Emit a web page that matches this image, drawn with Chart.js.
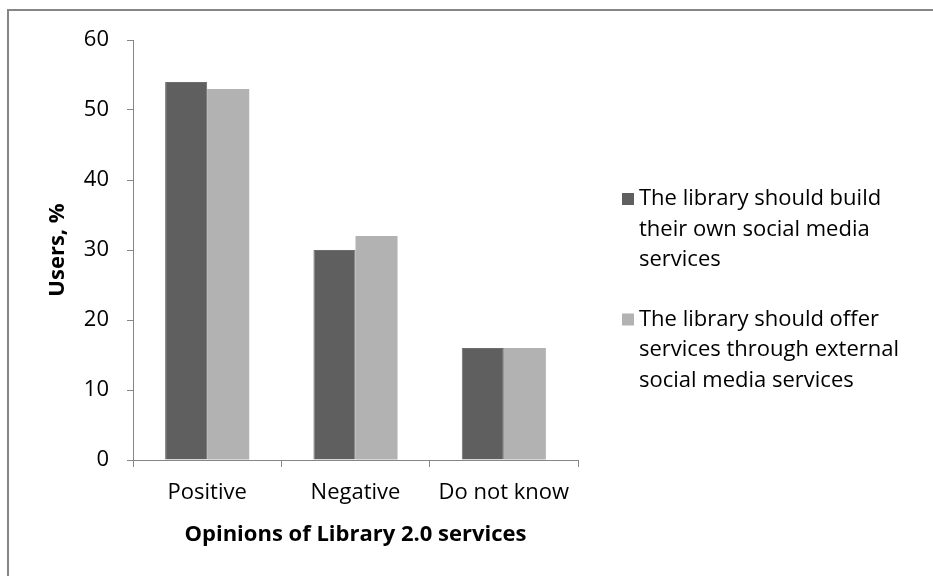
<!DOCTYPE html>
<html>
<head>
<meta charset="utf-8">
<script src="https://cdn.jsdelivr.net/npm/chart.js@4.4.1/dist/chart.umd.min.js"></script>
<style>
  html, body { margin: 0; padding: 0; background: #fff; }
  #wrap { position: relative; width: 933px; height: 576px; }
</style>
</head>
<body>
<div id="wrap"><canvas id="myChart"></canvas></div>
<script>
var categories = ["Positive", "Negative", "Do not know"];
var buildOwn = [54, 30, 16];
var external = [53, 32, 16];
var seriesNames = [
  ["The library should build", "their own social media", "services"],
  ["The library should offer", "services through external", "social media services"]
];
var yTicks = [0, 10, 20, 30, 40, 50, 60];

var fontFamily = "'Open Sans', 'Liberation Sans', sans-serif";
var fontSize = 22;
var axisGray = "#868686";

// outer frame, only the top and left edges show
var frame = {
  id: "frame",
  beforeDraw: function (chart) {
    var ctx = chart.ctx;
    ctx.save();
    ctx.fillStyle = "#fff";
    ctx.fillRect(0, 0, chart.width, chart.height);
    ctx.strokeStyle = axisGray;
    ctx.lineWidth = 2;
    ctx.beginPath();
    ctx.moveTo(8, chart.height);
    ctx.lineTo(8, 10);
    ctx.lineTo(chart.width, 10);
    ctx.stroke();
    ctx.restore();
  }
};

// legend with wrapped lines, to the right of the plot
var sideLegend = {
  id: "sideLegend",
  afterDraw: function (chart) {
    var ctx = chart.ctx;
    var x = chart.chartArea.right + 44;
    var y = 199;
    var lineGap = 30.5;
    ctx.save();
    ctx.font = fontSize + "px " + fontFamily;
    ctx.textBaseline = "middle";
    chart.data.datasets.forEach(function (ds, i) {
      ctx.fillStyle = ds.backgroundColor;
      ctx.fillRect(x, y - 6, 12, 12);
      ctx.fillStyle = "#000";
      seriesNames[i].forEach(function (line, j) {
        ctx.fillText(line, x + 17, y + j * lineGap);
      });
      y += 3 * lineGap + 29;
    });
    ctx.restore();
  }
};

new Chart("myChart", {
  type: "bar",
  data: {
    labels: categories,
    datasets: [{
      label: seriesNames[0].join(" "),
      data: buildOwn,
      backgroundColor: "#5f5f5f",
      borderColor: "#6e6e6e",
      borderWidth: 1,
      categoryPercentage: 0.567,
      barPercentage: 1
    }, {
      label: seriesNames[1].join(" "),
      data: external,
      backgroundColor: "#b2b2b2",
      categoryPercentage: 0.567,
      barPercentage: 1
    }]
  },
  options: {
    responsive: true,
    maintainAspectRatio: false,
    animation: false,
    layout: { padding: { top: 40, right: 355, left: 0, bottom: 0 } },
    plugins: {
      legend: { display: false },
      tooltip: { enabled: false }
    },
    scales: {
      x: {
        grid: { display: true, drawOnChartArea: false, offset: true, tickLength: 7, color: axisGray },
        border: { color: axisGray, width: 1 },
        ticks: { color: "#000", font: { family: fontFamily, size: fontSize }, padding: 13 },
        title: {
          display: true,
          text: "Opinions of Library 2.0 services",
          color: "#000",
          font: { family: fontFamily, size: fontSize, weight: "bold" },
          padding: { top: 0, bottom: 28 }
        },
        afterFit: function (scale) { scale.height = 116; }
      },
      y: {
        min: 0,
        max: 60,
        afterBuildTicks: function (scale) {
          scale.ticks = yTicks.map(function (v) { return { value: v }; });
        },
        grid: { display: true, drawOnChartArea: false, tickLength: 6, color: axisGray },
        border: { color: axisGray, width: 1 },
        ticks: { color: "#000", font: { family: fontFamily, size: fontSize }, padding: 18 },
        title: {
          display: true,
          text: "Users, %",
          color: "#000",
          font: { family: fontFamily, size: fontSize, weight: "bold" },
          padding: { top: 45, bottom: 0 }
        },
        afterFit: function (scale) { scale.width = 133; }
      }
    }
  },
  plugins: [frame, sideLegend]
});
</script>
</body>
</html>
